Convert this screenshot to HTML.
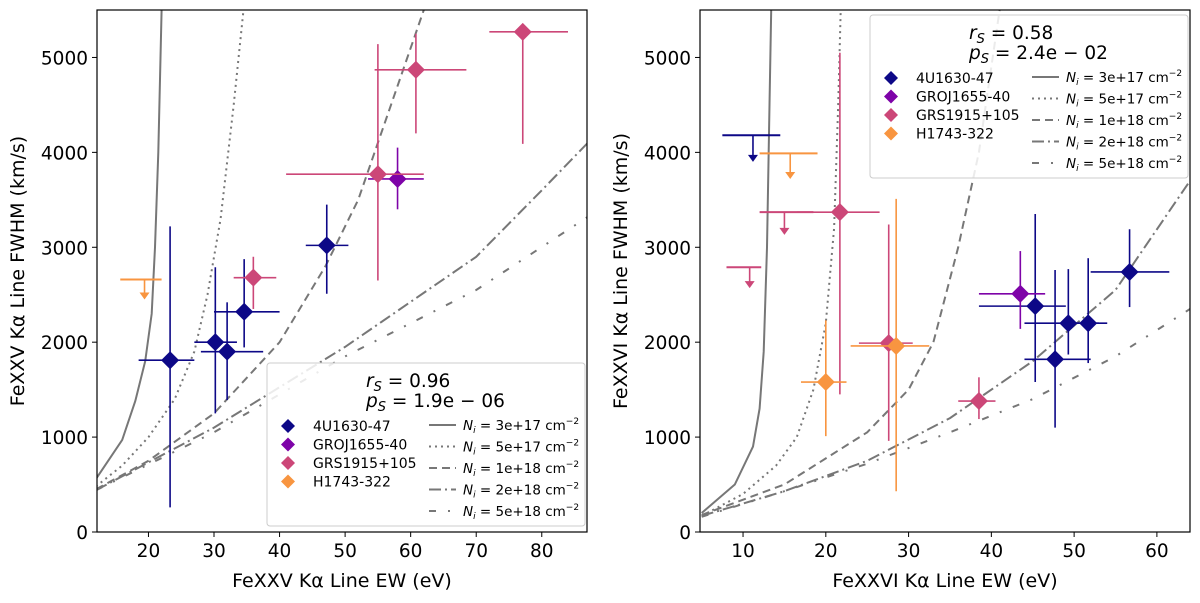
<!DOCTYPE html>
<html><head><meta charset="utf-8">
<style>
body{margin:0;background:#fff;}
svg text{font-family:"DejaVu Sans","Liberation Sans",sans-serif;fill:#000;}
</style></head>
<body>
<svg id="fig" width="1200" height="598" viewBox="0 0 1200 598" xmlns="http://www.w3.org/2000/svg"></svg>
<script>
// ---- data ----
const seriesNames = ["4U1630-47","GROJ1655-40","GRS1915+105","H1743-322"];
const seriesColors = ["#0d0887","#7e03a8","#cc4778","#f89540"];
const modelLabels = ["3e+17","5e+17","1e+18","2e+18","5e+18"];
const modelDash = ["", "2,4", "8,5", "12,4,2,4", "7,12,2,12"];
const yTicks = [0,1000,2000,3000,4000,5000];
const xTicksL = [20,30,40,50,60,70,80];
const xTicksR = [10,20,30,40,50,60];

// Left panel points: [series, x, y, xlo, xhi, ylo, yhi]
const ptsL = [
 [0,23.3,1810,18.5,27,260,3220],
 [0,30.2,2000,27,33.5,1250,2790],
 [0,32,1900,28,37.5,1390,2420],
 [0,34.6,2320,30,40,1945,2875],
 [0,47.2,3020,44,50.5,2510,3450],
 [1,58,3720,53.5,62,3400,4050],
 [2,36,2680,33,39.5,2350,2900],
 [2,55,3770,41,62,2650,5140],
 [2,60.8,4870,54.5,68.5,4200,5250],
 [2,77.1,5270,72,84,4090,5270]
];
// Upper limits: [series, x, y, xlo, xhi, arrowTo]
const ulL = [[3,19.4,2660,15.7,22,2450]];
const ptsR = [
 [0,45.3,2380,38.5,49,1580,3350],
 [0,47.7,1820,44,52,1100,2760],
 [0,49.3,2200,44,53,1870,2770],
 [0,51.7,2200,49,54,1780,2885],
 [0,56.7,2740,52,61.5,2370,3190],
 [1,43.5,2510,38.5,46.5,2140,2960],
 [2,21.7,3370,16.5,26.5,1450,5050],
 [2,27.6,1990,24,30.5,960,3240],
 [2,38.5,1380,36,40.5,1190,1630],
 [3,20,1580,17,22.5,1010,2230],
 [3,28.5,1960,23,32.5,430,3510]
];
const ulR = [
 [0,11.2,4180,7.5,14.5,3900],
 [3,15.7,3990,12,19,3720],
 [2,15,3370,12,18.5,3130],
 [2,10.8,2790,8,12.2,2570]
];
// model curves: x arrays and y arrays
const curveLx = [
 [12,16,18,19.5,20.5,21,21.5,22],
 [12,16,20,24,27,29,31,33,34.5],
 [12,20,30,40,47,52,57,62],
 [12,30,50,70,80,87],
 [12,30,50,70,87]];
const curveLy = [
 [560,970,1380,1800,2300,3000,4000,5500],
 [480,700,1000,1400,1900,2500,3300,4500,5500],
 [450,750,1250,2000,2800,3500,4500,5500],
 [440,1100,1950,2900,3600,4100],
 [440,1050,1850,2550,3320]];
const curveRx = [
 [5,9,11.2,12,12.5,12.9,13.2,13.4],
 [5,10,14,16.5,18.5,20,21,21.5,21.8],
 [5,15,25,30,33,36,38.5,41],
 [5,15,25,35,45,55,64],
 [5,15,25,35,45,55,64]];
const curveRy = [
 [200,500,900,1300,1900,3000,4500,5500],
 [170,400,700,1000,1500,2200,3200,4500,5500],
 [180,500,1050,1500,2000,3000,4000,5500],
 [170,430,750,1200,1800,2550,3700],
 [160,430,720,1050,1400,1850,2350]];

const NS="http://www.w3.org/2000/svg";
const svg=document.getElementById('fig');
function el(tag,attrs,parent){const e=document.createElementNS(NS,tag);for(const k in attrs)e.setAttribute(k,attrs[k]);(parent||svg).appendChild(e);return e;}

function panel(opt){
 const g=el('g',{});
 
 
 const L=opt.left,R=opt.right,T=10,B=532;
 const sx=v=>L+(v-opt.xmin)/(opt.xmax-opt.xmin)*(R-L);
 const sy=v=>B-(v-0)/(5500)*(B-T);
 const clipId='clip'+opt.id;
 const cp=el('clipPath',{id:clipId},g);el('rect',{x:L,y:T,width:R-L,height:B-T},cp);
 const plot=el('g',{'clip-path':'url(#'+clipId+')'},g);
 opt.cx.forEach((xs,i)=>{
  const d=xs.map((x,j)=>(j?'L':'M')+sx(x).toFixed(1)+','+sy(opt.cy[i][j]).toFixed(1)).join(' ');
  const p=el('path',{d:d,fill:'none',stroke:'#777','stroke-width':2,'stroke-dasharray':modelDash[i]},plot);
  
  
 });
 opt.pts.forEach(p=>{
  const c=seriesColors[p[0]];
  const gg=el('g',{},plot);
  
  
  el('line',{x1:sx(p[3]),x2:sx(p[4]),y1:sy(p[2]),y2:sy(p[2]),stroke:c,'stroke-width':1.6},gg);
  el('line',{x1:sx(p[1]),x2:sx(p[1]),y1:sy(p[5]),y2:sy(p[6]),stroke:c,'stroke-width':1.6},gg);
  const x=sx(p[1]),y=sy(p[2]);
  el('polygon',{points:`${x},${y-9} ${x+9},${y} ${x},${y+9} ${x-9},${y}`,fill:c},gg);
 });
 opt.ul.forEach(p=>{
  const c=seriesColors[p[0]];
  const gg=el('g',{},plot);
  
  
  const y=sy(p[2]),x=sx(p[1]),ya=sy(p[5]);
  el('line',{x1:sx(p[3]),x2:sx(p[4]),y1:y,y2:y,stroke:c,'stroke-width':2},gg);
  el('line',{x1:x,x2:x,y1:y,y2:ya-4,stroke:c,'stroke-width':1.6},gg);
  el('polygon',{points:`${x-5},${ya-7} ${x+5},${ya-7} ${x},${ya}`,fill:c},gg);
 });
 const fr=el('rect',{x:L,y:T,width:R-L,height:B-T,fill:'none',stroke:'#000','stroke-width':1.2},g);
 
 yTicks.forEach(v=>{
  el('line',{x1:L-5,x2:L,y1:sy(v),y2:sy(v),stroke:'#000'},g);
  const t=el('text',{x:L-9,y:sy(v)+7,'text-anchor':'end','font-size':18.5},g);t.textContent=v;
  
 });
 opt.xt.forEach(v=>{
  el('line',{x1:sx(v),x2:sx(v),y1:B,y2:B+5,stroke:'#000'},g);
  const t=el('text',{x:sx(v),y:B+25,'text-anchor':'middle','font-size':18.5},g);t.textContent=v;
  
 });
 const xl=el('text',{x:(L+R)/2,y:587,'text-anchor':'middle','font-size':19},g);xl.textContent=opt.xlabel;
 
 const yx=opt.ylx;
 const yl=el('text',{x:yx,y:271,'text-anchor':'middle','font-size':19,transform:`rotate(-90 ${yx} 271)`},g);yl.textContent=opt.ylabel;
 
 const lx=opt.lx,ly=opt.ly;
 const lg=el('g',{},g);
 
 el('rect',{x:lx,y:ly,width:318,height:163,rx:3,fill:'#fff','fill-opacity':0.85,stroke:'#ccc'},lg);
 const t1=el('text',{x:lx+99,y:ly+24,'font-size':18.5},lg);
 t1.innerHTML='<tspan font-style="italic">r</tspan><tspan font-size="13" dy="4" font-style="italic">S</tspan><tspan dy="-4"> = '+opt.r+'</tspan>';
 const t2=el('text',{x:lx+99,y:ly+44,'font-size':18.5},lg);
 t2.innerHTML='<tspan font-style="italic">p</tspan><tspan font-size="13" dy="4" font-style="italic">S</tspan><tspan dy="-4"> = '+opt.p+'</tspan>';
 seriesNames.forEach((n,i)=>{
  const yy=ly+63+i*18.5;
  const e=el('g',{},lg);
  
  const x=lx+21;
  el('polygon',{points:`${x},${yy-7} ${x+7},${yy} ${x},${yy+7} ${x-7},${yy}`,fill:seriesColors[i]},e);
  const t=el('text',{x:lx+46,y:yy+5,'font-size':14},e);t.textContent=n;
 });
 modelLabels.forEach((m,i)=>{
  const yy=ly+62+i*21.5;
  const e=el('g',{},lg);
  
  el('line',{x1:lx+162,x2:lx+189,y1:yy,y2:yy,stroke:'#777','stroke-width':2,'stroke-dasharray':modelDash[i]},e);
  const t=el('text',{x:lx+196,y:yy+5,'font-size':13.5},e);
  t.innerHTML='<tspan font-style="italic">N</tspan><tspan font-size="9" dy="3" font-style="italic">i</tspan><tspan dy="-3"> = '+m+' cm</tspan><tspan font-size="9" dy="-6">−2</tspan>';
 });
}
panel({id:'L',name:'left-panel-fexxv',left:97,right:587,xmin:12.15,xmax:86.9,cx:curveLx,cy:curveLy,pts:ptsL,ul:ulL,xt:xTicksL,
 xlabel:'FeXXV Kα Line EW (eV)',ylabel:'FeXXV Kα Line FWHM (km/s)',ylx:24,lx:267,ly:363,r:'0.96',p:'1.9e − 06'});
panel({id:'R',name:'right-panel-fexxvi',left:700,right:1190,xmin:4.8,xmax:64,cx:curveRx,cy:curveRy,pts:ptsR,ul:ulR,xt:xTicksR,
 xlabel:'FeXXVI Kα Line EW (eV)',ylabel:'FeXXVI Kα Line FWHM (km/s)',ylx:627,lx:870,ly:15,r:'0.58',p:'2.4e − 02'});
</script>
</body></html>
